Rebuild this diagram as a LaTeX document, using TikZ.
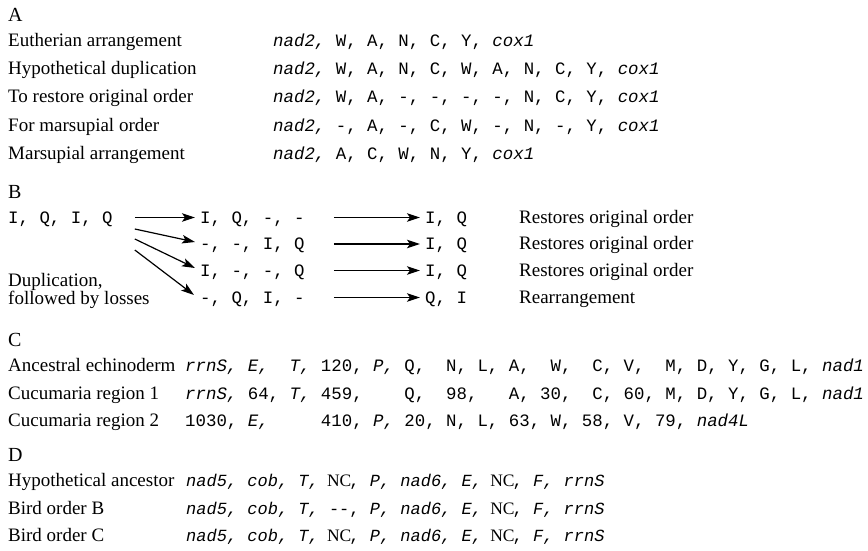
\documentclass[tikz,border=0pt]{standalone}
\usepackage{fontspec}
\setmainfont{Liberation Serif}
\setmonofont{Liberation Mono}
\usetikzlibrary{arrows.meta}
\newcommand\gn[1]{{\itshape #1}}
\newcommand\ncx{\makebox[1.2em][c]{\fontsize{17.5}{17.5}\rmfamily NC}}
\tikzset{
  lab/.style={anchor=base west, inner sep=0pt, font=\fontsize{19}{22}\selectfont},
  head/.style={anchor=base west, inner sep=0pt, font=\fontsize{20}{22}\selectfont},
  seq/.style={anchor=base west, inner sep=0pt, font=\fontsize{17.4}{20}\selectfont\ttfamily},
  dseq/.style={anchor=base west, inner sep=0pt, font=\fontsize{17}{20}\selectfont\ttfamily},
  arr/.style={-{Stealth[length=13pt,width=8.5pt,inset=3pt]}, line width=1.2pt}
}
\begin{document}
\begin{tikzpicture}[x=1pt,y=-1pt]
\useasboundingbox[fill=white] (0,0) rectangle (868,551);
% ---------- A ----------
\node[head] (hA) at (8,21.5) {A};
\node[lab] (a1l) at (8,46.7) {Eutherian arrangement};
\node[lab] (a2l) at (8,74.8) {Hypothetical duplication};
\node[lab] (a3l) at (8,102.9) {To restore original order};
\node[lab] (a4l) at (8,131.1) {For marsupial order};
\node[lab] (a5l) at (8,159.3) {Marsupial arrangement};
\node[seq] (a1s) at (273,46.7) {\gn{nad2,}~W,~A,~N,~C,~Y,~\gn{cox1}};
\node[seq] (a2s) at (273,74.8) {\gn{nad2,}~W,~A,~N,~C,~W,~A,~N,~C,~Y,~\gn{cox1}};
\node[seq] (a3s) at (273,102.9) {\gn{nad2,}~W,~A,~-,~-,~-,~-,~N,~C,~Y,~\gn{cox1}};
\node[seq] (a4s) at (273,131.1) {\gn{nad2,}~-,~A,~-,~C,~W,~-,~N,~-,~Y,~\gn{cox1}};
\node[seq] (a5s) at (273,159.3) {\gn{nad2,}~A,~C,~W,~N,~Y,~\gn{cox1}};
% ---------- B ----------
\node[head] (hB) at (8,198.3) {B};
\node[seq] (b0) at (8,223) {I,~Q,~I,~Q};
\node[seq] (m1) at (200,223) {I,~Q,~-,~-};
\node[seq] (m2) at (200,249.5) {-,~-,~I,~Q};
\node[seq] (m3) at (200,276) {I,~-,~-,~Q};
\node[seq] (m4) at (200,303) {-,~Q,~I,~-};
\node[seq] (f1) at (425,223) {I,~Q};
\node[seq] (f2) at (425,249.5) {I,~Q};
\node[seq] (f3) at (425,276) {I,~Q};
\node[seq] (f4) at (425,303) {Q,~I};
\node[lab] (n1) at (519,223) {Restores original order};
\node[lab] (n2) at (519,249.5) {Restores original order};
\node[lab] (n3) at (519,276) {Restores original order};
\node[lab] (n4) at (519,303) {Rearrangement};
\node[lab] (dup) at (8,286) {Duplication,};
\node[lab] (fol) at (8,304) {followed by losses};
\draw[arr] ([xshift=22pt,yshift=5.5pt]b0.base east) -- ([xshift=-5pt,yshift=5.5pt]m1.base west);
\draw[arr] ([xshift=22pt,yshift=-6pt]b0.base east) -- ([xshift=-5pt,yshift=7.5pt]m2.base west);
\draw[arr] ([xshift=22pt,yshift=-16pt]b0.base east) -- ([xshift=-5pt,yshift=8pt]m3.base west);
\draw[arr] ([xshift=22pt,yshift=-27pt]b0.base east) -- ([xshift=-6pt,yshift=8pt]m4.base west);
\draw[arr] ([xshift=29pt,yshift=5.5pt]m1.base east) -- ([xshift=-5pt,yshift=5.5pt]f1.base west);
\draw[arr] ([xshift=29pt,yshift=5.5pt]m2.base east) -- ([xshift=-5pt,yshift=5.5pt]f2.base west);
\draw[arr] ([xshift=29pt,yshift=5.5pt]m3.base east) -- ([xshift=-5pt,yshift=5.5pt]f3.base west);
\draw[arr] ([xshift=29pt,yshift=5.5pt]m4.base east) -- ([xshift=-5pt,yshift=5.5pt]f4.base west);
% ---------- C ----------
\node[head] (hC) at (8,346.7) {C};
\node[lab] (c1l) at (8,371.5) {Ancestral echinoderm};
\node[lab] (c2l) at (8,399) {Cucumaria region 1};
\node[lab] (c3l) at (8,426.5) {Cucumaria region 2};
\node[seq] (c1s) at (185,371.5) {\gn{rrnS,}~\gn{E,}~~\gn{T,}~120,~\gn{P,}~Q,~~N,~L,~A,~~W,~~C,~V,~~M,~D,~Y,~G,~L,~\gn{nad1}};
\node[seq] (c2s) at (185,399) {\gn{rrnS,}~64,~\gn{T,}~459,~~~~Q,~~98,~~~A,~30,~~C,~60,~M,~D,~Y,~G,~L,~\gn{nad1}};
\node[seq] (c3s) at (185,426.5) {1030,~\gn{E,}~~~~~410,~\gn{P,}~20,~N,~L,~63,~W,~58,~V,~79,~\gn{nad4L}};
% ---------- D ----------
\node[head] (hD) at (8,461.7) {D};
\node[lab] (d1l) at (8,486.5) {Hypothetical ancestor};
\node[lab] (d2l) at (8,514) {Bird order B};
\node[lab] (d3l) at (8,541) {Bird order C};
\node[dseq] (d1s) at (186,486.5) {\gn{nad5,}~\gn{cob,}~\gn{T,}~\ncx,~\gn{P,}~\gn{nad6,}~\gn{E,}~\ncx,~\gn{F,}~\gn{rrnS}};
\node[dseq] (d2s) at (186,514) {\gn{nad5,}~\gn{cob,}~\gn{T,}~{-}{-},~\gn{P,}~\gn{nad6,}~\gn{E,}~\ncx,~\gn{F,}~\gn{rrnS}};
\node[dseq] (d3s) at (186,541) {\gn{nad5,}~\gn{cob,}~\gn{T,}~\ncx,~\gn{P,}~\gn{nad6,}~\gn{E,}~\ncx,~\gn{F,}~\gn{rrnS}};
\end{tikzpicture}
\end{document}
